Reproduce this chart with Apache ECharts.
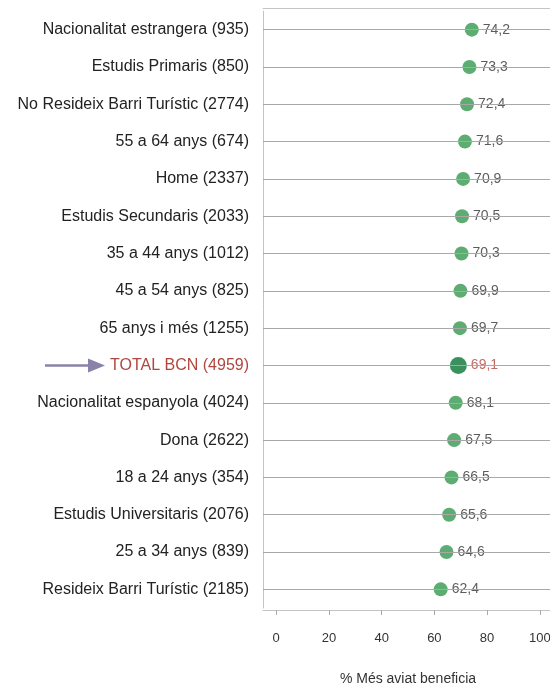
<!DOCTYPE html>
<html>
<head>
<meta charset="utf-8">
<script src="https://cdn.jsdelivr.net/npm/echarts@6/dist/echarts.min.js"></script>
<style>
  html, body { margin: 0; padding: 0; background: #fff; }
  #main { width: 550px; height: 686px; }
</style>
</head>
<body>
<div id="main"></div>
<script>
// categories, top to bottom
const categories = [
  'Nacionalitat estrangera (935)',
  'Estudis Primaris (850)',
  'No Resideix Barri Turístic (2774)',
  '55 a 64 anys (674)',
  'Home (2337)',
  'Estudis Secundaris (2033)',
  '35 a 44 anys (1012)',
  '45 a 54 anys (825)',
  '65 anys i més (1255)',
  'TOTAL BCN (4959)',
  'Nacionalitat espanyola (4024)',
  'Dona (2622)',
  '18 a 24 anys (354)',
  'Estudis Universitaris (2076)',
  '25 a 34 anys (839)',
  'Resideix Barri Turístic (2185)'
];
const values = [74.2, 73.3, 72.4, 71.6, 70.9, 70.5, 70.3, 69.9, 69.7, 69.1, 68.1, 67.5, 66.5, 65.6, 64.6, 62.4];
const xTicks = [0, 20, 40, 60, 80, 100];
const totalName = 'TOTAL BCN (4959)';

const FONT = '"Liberation Sans", Arial, sans-serif';
const RED = '#b0463e';

const chartDom = document.getElementById('main');
const myChart = echarts.init(chartDom);

const fmt = v => v.toFixed(1).replace('.', ',');

const option = {
  animation: false,
  textStyle: { fontFamily: FONT },
  grid: { left: 263, top: 11, width: 290, height: 597, outerBoundsMode: 'none', containLabel: false },
  xAxis: [
    {
      type: 'value',
      min: -5,
      max: 105,
      offset: 2,
      name: '% Més aviat beneficia',
      nameLocation: 'middle',
      nameGap: 62,
      nameTextStyle: { fontSize: 14, color: '#333', fontFamily: FONT },
      axisLine: { show: true, lineStyle: { color: '#c4c4c4' } },
      axisTick: { show: true, length: 5, customValues: xTicks, lineStyle: { color: '#aaa' } },
      axisLabel: { customValues: xTicks, margin: 22, fontSize: 13, color: '#333', fontFamily: FONT },
      splitLine: { show: false }
    },
    {
      type: 'value',
      position: 'top',
      min: -5,
      max: 105,
      offset: 3,
      axisLine: { show: true, lineStyle: { color: '#c4c4c4' } },
      axisTick: { show: false },
      axisLabel: { show: false },
      splitLine: { show: false }
    }
  ],
  yAxis: {
    type: 'category',
    inverse: true,
    data: categories,
    axisLine: { show: true, onZero: false, lineStyle: { color: '#c4c4c4' } },
    axisTick: { show: false },
    axisLabel: {
      margin: 14,
      fontSize: 16,
      fontFamily: FONT,
      color: '#222',
      formatter: v => v === totalName ? '{t|' + v + '}' : v,
      rich: { t: { color: RED, fontSize: 16, fontFamily: FONT } }
    }
  },
  series: [
    {
      // row lines behind the dots
      type: 'line',
      data: [],
      z: 1,
      silent: true,
      markLine: {
        silent: true,
        symbol: 'none',
        label: { show: false },
        lineStyle: { type: 'solid', color: '#a8a8a8', width: 1 },
        data: categories.map(c => ({ yAxis: c }))
      }
    },
    {
      type: 'scatter',
      z: 3,
      data: values.map((v, i) => {
        const isTotal = categories[i] === totalName;
        return {
          value: [v, categories[i]],
          symbolSize: isTotal ? 17 : 14,
          itemStyle: { color: isTotal ? '#0a7436' : '#34984f' },
          label: { color: isTotal ? RED : '#333' }
        };
      }),
      label: {
        show: true,
        position: 'right',
        distance: 4,
        fontSize: 14,
        fontFamily: FONT,
        formatter: p => fmt(p.value[0])
      }
    }
  ]
};

option && myChart.setOption(option);

// arrow pointing at the total row
const ty = myChart.convertToPixel({ yAxisIndex: 0 }, totalName);
myChart.setOption({
  graphic: [
    {
      type: 'line',
      shape: { x1: 45, y1: ty, x2: 90, y2: ty },
      style: { stroke: '#8a82a8', lineWidth: 2.5 }
    },
    {
      type: 'polygon',
      shape: { points: [[88, ty - 7], [105, ty], [88, ty + 7]] },
      style: { fill: '#8a82a8' }
    }
  ]
});
</script>
</body>
</html>
